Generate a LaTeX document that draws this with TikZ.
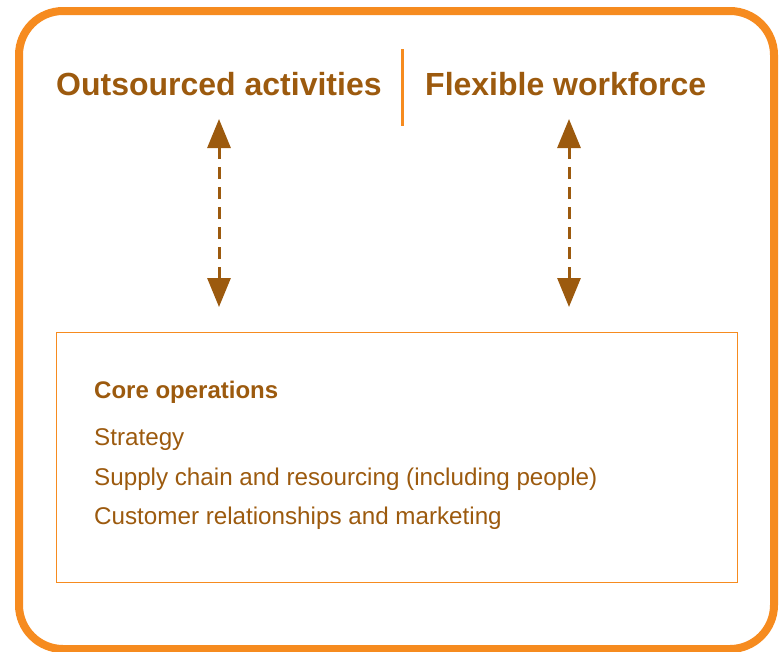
\documentclass[tikz,border=0pt]{standalone}
\usepackage{fontspec}
\setmainfont{Liberation Sans}
\usetikzlibrary{arrows.meta}
\definecolor{frameorange}{HTML}{F68B1F}
\definecolor{textbrown}{HTML}{9C5A0E}
\tikzset{
  headtext/.style={font=\fontsize{32}{38}\selectfont\bfseries, text=textbrown, inner sep=0pt, anchor=base west},
  bodytext/.style={font=\fontsize{24.2}{28}\selectfont, text=textbrown, inner sep=0pt, anchor=base west},
  dasharrow/.style={draw=textbrown, line width=3pt, dash pattern=on 12pt off 8pt,
    {Triangle[width=23pt,length=29pt]}-{Triangle[width=23pt,length=29pt]}, shorten <=0pt, shorten >=0pt},
}
\begin{document}
\begin{tikzpicture}[x=1pt,y=-1pt]
\useasboundingbox (0,0) rectangle (782,651);
\draw[frameorange, line width=8pt, rounded corners=44pt] (19,11) rectangle (774,649);
\node[headtext] (outs) at (56,95) {Outsourced activities};
\node[headtext] (flex) at (425,95) {Flexible workforce};
\coordinate (sepTop) at (402,49);
\coordinate (sepBot) at (402,126);
\draw[frameorange, line width=3pt] (sepTop) -- (sepBot);
\node[draw=frameorange, line width=1.2pt, minimum width=681pt, minimum height=250pt, anchor=north west, inner sep=0pt] (core) at (56,332) {};
\coordinate (aLt) at (219,119);
\coordinate (aLb) at (219,307);
\coordinate (aRt) at (569,119);
\coordinate (aRb) at (569,307);
\draw[dasharrow] (aLt) -- (aLb);
\draw[dasharrow] (aRt) -- (aRb);
\node[bodytext, font=\fontsize{24}{28}\selectfont\bfseries] (t0) at (94,398) {Core operations};
\node[bodytext] (t1) at (94,445) {Strategy};
\node[bodytext] (t2) at (94,485) {Supply chain and resourcing (including people)};
\node[bodytext] (t3) at (94,524) {Customer relationships and marketing};
\end{tikzpicture}
\end{document}
